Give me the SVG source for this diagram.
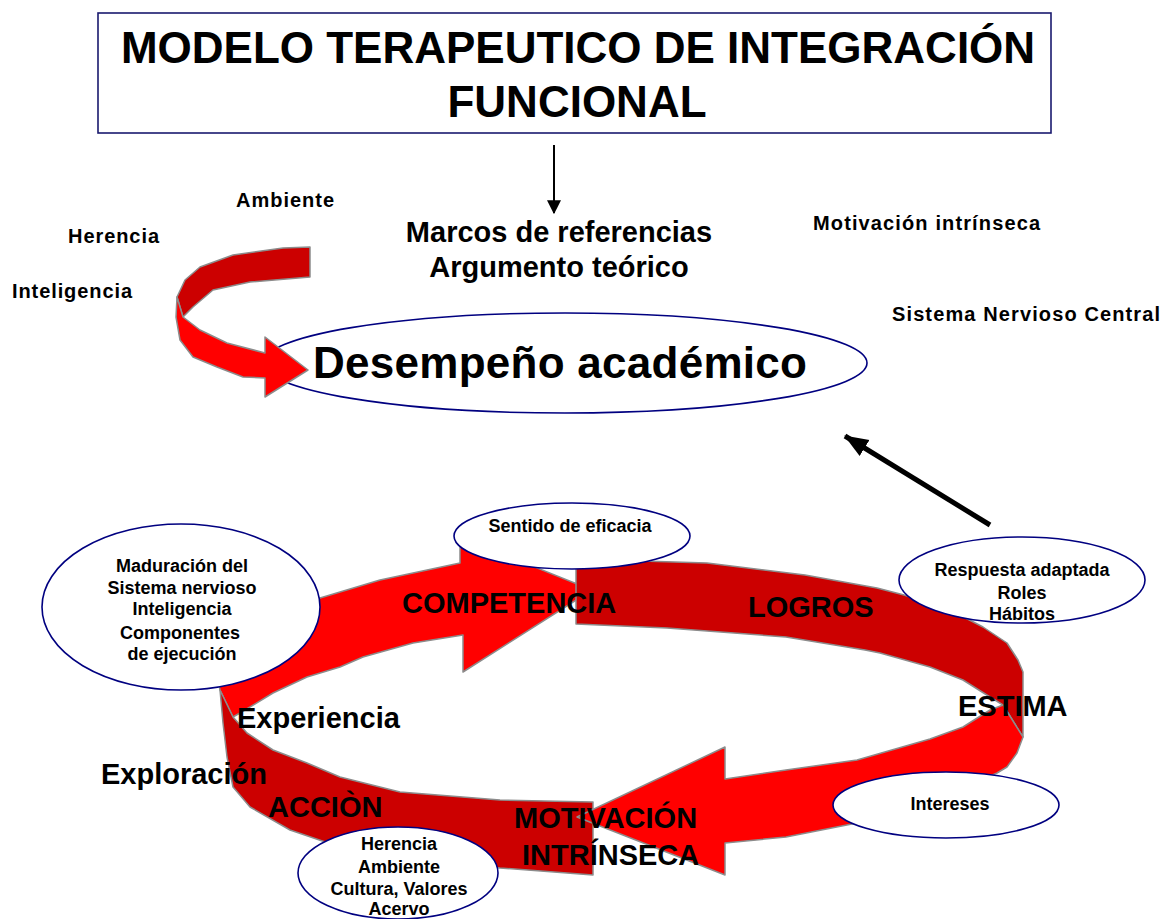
<svg xmlns="http://www.w3.org/2000/svg" width="1163" height="919" viewBox="0 0 1163 919">
<style>
text{font-family:"Liberation Sans",Arial,sans-serif;font-weight:bold;fill:#000}
.t44{font-size:44px}
.t29{font-size:29px}
.t20{font-size:20px}
.t18{font-size:18px}
.mid{text-anchor:middle}
.band{stroke:#8c8c8c;stroke-width:1.5;stroke-linejoin:round}
.red{fill:#ff0000}
.dark{fill:#cc0000}
.ell{fill:#fff;stroke:#000080;stroke-width:1.6}
.conn{stroke:#000;fill:none}
</style>
<defs>
<marker id="ahSmall" markerUnits="userSpaceOnUse" markerWidth="14" markerHeight="14" refX="11" refY="6" orient="auto" viewBox="0 0 12 12">
<path d="M0,0 L12,6 L0,12 Z" fill="#000"/>
</marker>
<marker id="ahBig" markerUnits="userSpaceOnUse" markerWidth="24" markerHeight="20" refX="22" refY="9" orient="auto" viewBox="0 0 23 18">
<path d="M0,0 L23,9 L0,18 Z" fill="#000"/>
</marker>
</defs>
<rect width="1163" height="919" fill="#fff"/>

<g id="title">
<rect x="98" y="13" width="953" height="120" fill="#fff" stroke="#1a1a6e" stroke-width="1.6"/>
<text class="t44 mid" x="578" y="63">MODELO TERAPEUTICO DE INTEGRACIÓN</text>
<text class="t44 mid" x="577" y="117">FUNCIONAL</text>
</g>

<g id="connectors">
<line class="conn" x1="554" y1="145" x2="554" y2="213" stroke-width="2" marker-end="url(#ahSmall)"/>
<line class="conn" x1="990" y1="525" x2="845" y2="436" stroke-width="5" marker-end="url(#ahBig)"/>
</g>

<g id="labels-top">
<text class="t20" x="236" y="207" textLength="98" lengthAdjust="spacing">Ambiente</text>
<text class="t20" x="68" y="243" textLength="91" lengthAdjust="spacing">Herencia</text>
<text class="t20" x="12" y="298" textLength="120" lengthAdjust="spacing">Inteligencia</text>
<text class="t29 mid" x="559" y="242">Marcos de referencias</text>
<text class="t29 mid" x="559" y="277">Argumento teórico</text>
<text class="t20" x="813" y="230" textLength="227" lengthAdjust="spacing">Motivación intrínseca</text>
<text class="t20" x="892" y="321" textLength="268" lengthAdjust="spacing">Sistema Nervioso Central</text>
</g>

<g id="desempeno">
<ellipse class="ell" cx="565" cy="363" rx="302" ry="50"/>
<text class="t44" x="313" y="378" textLength="494" lengthAdjust="spacing">Desempeño académico</text>
</g>

<g id="curved-arrow">
<polygon class="band dark" points="310,247 283,248 233,255 200,267 185,280 177,297 183,317 193,307 213,290 250,282 310,277"/>
<polygon class="band red" points="177,297 176,317 180,340 193,357 217,367 243,377 265,378 265,397 308,370 265,337 265,353 227,343 200,330 183,317"/>
</g>

<g id="loop">
<polygon id="competencia-arrow" class="band red" points="220,690 214,660 290,612 320,598 380,580 413,573 460,563 460,537 592,590 463,672 463,635 413,643 363,657 340,667 307,677 273,693 240,713 233,717"/>
<polygon id="logros-band" class="band dark" points="576,559 707,563 805,575 877,588 904,595 950,610 983,627 1007,643 1018,660 1023,672 1023,737 1003,705 990,697 963,680 930,667 880,653 865,650 786,637 667,628 576,624"/>
<polygon id="accion-band" class="band dark" points="220,690 233,717 247,733 273,750 307,763 340,777 400,792 500,800 593,802 593,875 500,868 420,860 340,847 290,830 250,807 233,787 227,757 223,723"/>
<polygon id="motivacion-arrow" class="band red" points="1003,705 1023,737 1020,745 1017,753 1007,767 997,773 960,790 900,808 857,823 786,837 725,843 725,875 577,817 725,747 725,779 786,770 857,760 930,739 963,727 990,710"/>
</g>

<g id="sentido">
<ellipse class="ell" cx="572" cy="536" rx="118" ry="33"/>
<text class="t18 mid" x="570" y="532">Sentido de eficacia</text>
</g>

<g id="maduracion">
<ellipse class="ell" cx="181" cy="607" rx="139" ry="83"/>
<text class="t18 mid" x="182" y="572">Maduración del</text>
<text class="t18 mid" x="182" y="594">Sistema nervioso</text>
<text class="t18 mid" x="182" y="615">Inteligencia</text>
<text class="t18 mid" x="180" y="639">Componentes</text>
<text class="t18 mid" x="182" y="660">de ejecución</text>
</g>

<g id="respuesta">
<ellipse class="ell" cx="1022" cy="580" rx="123" ry="43"/>
<text class="t18 mid" x="1022" y="576">Respuesta adaptada</text>
<text class="t18 mid" x="1022" y="599">Roles</text>
<text class="t18 mid" x="1022" y="620">Hábitos</text>
</g>

<g id="intereses">
<ellipse class="ell" cx="946" cy="805" rx="113" ry="33"/>
<text class="t18 mid" x="950" y="810">Intereses</text>
</g>

<g id="herencia">
<ellipse class="ell" cx="398" cy="873" rx="100" ry="46"/>
<text class="t18 mid" x="399" y="850">Herencia</text>
<text class="t18 mid" x="399" y="873">Ambiente</text>
<text class="t18 mid" x="399" y="895">Cultura, Valores</text>
<text class="t18 mid" x="399" y="915">Acervo</text>
</g>

<g id="loop-labels">
<text class="t29" x="402" y="613">COMPETENCIA</text>
<text class="t29" x="748" y="617">LOGROS</text>
<text class="t29" x="958" y="716">ESTIMA</text>
<text class="t29" x="237" y="728">Experiencia</text>
<text class="t29" x="101" y="784">Exploración</text>
<text class="t29" x="268" y="817">ACCIÒN</text>
<text class="t29" x="514" y="828">MOTIVACIÓN</text>
<text class="t29" x="522" y="865">INTRÍNSECA</text>
</g>
</svg>
